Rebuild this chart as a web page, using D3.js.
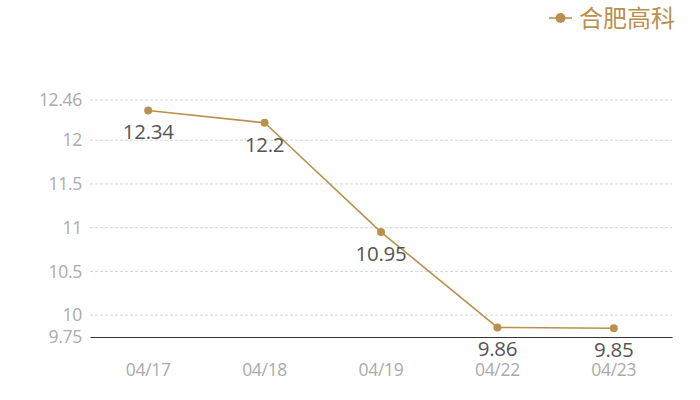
<!DOCTYPE html>
<html><head><meta charset="utf-8">
<script src="https://cdn.jsdelivr.net/npm/d3@7/dist/d3.min.js"></script>
<style>body{margin:0;background:#fff}svg{display:block}</style>
</head><body>
<svg id="c" width="700" height="400"></svg>
<script>
const categories = ["04/17","04/18","04/19","04/22","04/23"];
const values = [12.34, 12.2, 10.95, 9.86, 9.85];
const yTicks = [9.75, 10, 10.5, 11, 11.5, 12, 12.46];
const seriesName = "合肥高科";
const color = "#b8914e";
const font = "'Open Sans','Noto Sans',sans-serif";

const svg = d3.select("#c");
const x = d3.scaleBand().domain(categories).range([90, 672]);
const y = d3.scaleLinear().domain([9.75, 12.46]).range([337, 100]);

// grid
svg.append("g").selectAll("line").data(yTicks.filter(t => t !== 9.75)).join("line")
  .attr("x1", 90).attr("x2", 672)
  .attr("y1", d => y(d)).attr("y2", d => y(d))
  .attr("stroke", "#d6d6d6").attr("stroke-dasharray", "3,2").attr("stroke-width", 1);

// y axis labels
const yAxis = d3.axisLeft(y).tickValues(yTicks).tickSize(0).tickPadding(8).tickFormat(d => String(d));
const gy = svg.append("g").attr("transform", "translate(90,0)").call(yAxis);
gy.select(".domain").remove();
gy.selectAll("text").attr("fill", "#aaaaaa").style("font-size", "17.5px").style("font-family", font).attr("letter-spacing", "-0.3");

// x axis
const xAxis = d3.axisBottom(x).tickSize(0).tickPadding(27);
const gx = svg.append("g").attr("transform", "translate(0,337)").call(xAxis);
gx.select(".domain").attr("stroke", "#333").attr("stroke-width", 1.2);
gx.selectAll("text").attr("fill", "#aaaaaa").style("font-size", "17.5px").style("font-family", font).attr("letter-spacing", "-0.3");

const cx = d => x(d) + x.bandwidth() / 2;

// line
svg.append("path").datum(values)
  .attr("fill", "none").attr("stroke", color).attr("stroke-width", 1.6)
  .attr("d", d3.line().x((d, i) => cx(categories[i])).y(d => y(d)));

svg.append("g").selectAll("circle").data(values).join("circle")
  .attr("cx", (d, i) => cx(categories[i])).attr("cy", d => y(d)).attr("r", 4).attr("fill", color);

svg.append("g").selectAll("text").data(values).join("text")
  .attr("x", (d, i) => cx(categories[i])).attr("y", d => y(d) + 29)
  .attr("text-anchor", "middle").attr("fill", "#555").style("font-size", "20.5px").style("font-family", font).attr("letter-spacing", "-0.3")
  .text(d => String(d));

// legend
const lg = svg.append("g");
lg.append("line").attr("x1", 549).attr("x2", 572).attr("y1", 18).attr("y2", 18).attr("stroke", color).attr("stroke-width", 1.6);
lg.append("circle").attr("cx", 560.5).attr("cy", 18).attr("r", 5).attr("fill", color);
lg.append("text").attr("x", 579).attr("y", 27).attr("fill", color)
  .style("font-size", "24px").style("font-family", "'Noto Sans CJK SC',sans-serif").text(seriesName);
</script>
</body></html>
